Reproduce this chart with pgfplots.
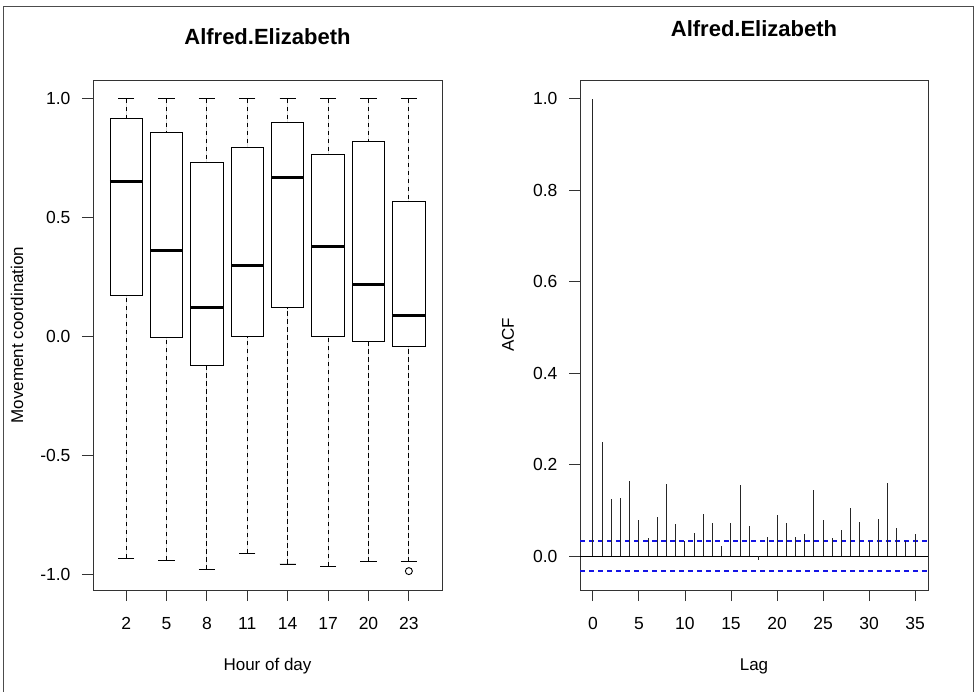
\documentclass[border=0pt]{standalone}
\usepackage{pgfplots}
\pgfplotsset{compat=1.18}
\usepgfplotslibrary{statistics}
\usepackage{fontspec}
\setmainfont{Liberation Sans}
\definecolor{ciblue}{RGB}{20,20,230}

\pgfplotsset{
  rpanel/.style={
    scale only axis,
    height=510pt,
    anchor=south west,
    axis line style={black!80, line width=0.9pt},
    tick align=outside,
    major tick length=11pt,
    xtick pos=left, ytick pos=left,
    tick style={black!80, line width=0.9pt},
    tick label style={font=\fontsize{17.5}{20}\selectfont},
    xticklabel style={yshift=-13pt},
    yticklabel style={xshift=-8pt, /pgf/number format/fixed, /pgf/number format/fixed zerofill, /pgf/number format/precision=1},
    title style={font=\fontsize{22}{26}\selectfont\bfseries, at={(0.5,1)}, anchor=center},
    /pgf/number format/assume math mode=true,
    every axis y label/.style={at={(axis description cs:0,0.5)}, rotate=90, anchor=center, font=\fontsize{17}{20}\selectfont},
    every axis x label/.style={at={(axis description cs:0.5,0)}, anchor=center, yshift=-76pt, font=\fontsize{17}{20}\selectfont},
  },
  boxplot/draw/lower whisker/.code={%
    \draw[black, line width=0.9pt, dash pattern=on 4.5pt off 3.5pt]
      (boxplot cs:\pgfplotsboxplotvalue{lower whisker}) -- (boxplot cs:\pgfplotsboxplotvalue{lower quartile});
    \draw[black, line width=0.9pt]
      (boxplot whisker cs:\pgfplotsboxplotvalue{lower whisker},0) -- (boxplot whisker cs:\pgfplotsboxplotvalue{lower whisker},1);
  },
  boxplot/draw/upper whisker/.code={%
    \draw[black, line width=0.9pt, dash pattern=on 4.5pt off 3.5pt]
      (boxplot cs:\pgfplotsboxplotvalue{upper whisker}) -- (boxplot cs:\pgfplotsboxplotvalue{upper quartile});
    \draw[black, line width=0.9pt]
      (boxplot whisker cs:\pgfplotsboxplotvalue{upper whisker},0) -- (boxplot whisker cs:\pgfplotsboxplotvalue{upper whisker},1);
  },
  hbox/.style={black, fill=white, line width=0.9pt, solid,
    boxplot/draw direction=y,
    boxplot/box extend=0.8, boxplot/whisker extend=0.4,
    boxplot/every median/.style={line width=3pt}},
  ciline/.style={color=ciblue, line width=1.3pt, dash pattern=on 5pt off 4pt, mark=none},
}

\begin{document}
\begin{tikzpicture}[x=1pt,y=1pt]
\path[use as bounding box] (0,0) rectangle (974,691);
\draw[black!70, line width=1pt] (3,-2) -- (3,684) -- (973,684) -- (973,-2);

% left: boxplots by hour
\begin{axis}[
  rpanel,
  at={(93pt,101pt)},
  width=349pt,
  xmin=0.18, xmax=8.82,
  ymin=-1.0644, ymax=1.0794,
  xtick={1,2,3,4,5,6,7,8},
  xticklabels={2,5,8,11,14,17,20,23},
  ytick={-1,-0.5,0,0.5,1},
  title={Alfred.Elizabeth},
  title style={yshift=37pt},
  xlabel={Hour of day},
  ylabel={Movement coordination},
  ylabel style={yshift=76pt},
]
\addplot[hbox, boxplot prepared={draw position=1, lower whisker=-0.93, lower quartile=0.172, median=0.651, upper quartile=0.918, upper whisker=1.0}] coordinates {};
\addplot[hbox, boxplot prepared={draw position=2, lower whisker=-0.94, lower quartile=-0.003, median=0.363, upper quartile=0.861, upper whisker=1.0}] coordinates {};
\addplot[hbox, boxplot prepared={draw position=3, lower whisker=-0.98, lower quartile=-0.12, median=0.123, upper quartile=0.734, upper whisker=1.0}] coordinates {};
\addplot[hbox, boxplot prepared={draw position=4, lower whisker=-0.91, lower quartile=0.0, median=0.300, upper quartile=0.797, upper whisker=1.0}] coordinates {};
\addplot[hbox, boxplot prepared={draw position=5, lower whisker=-0.955, lower quartile=0.123, median=0.671, upper quartile=0.900, upper whisker=1.0}] coordinates {};
\addplot[hbox, boxplot prepared={draw position=6, lower whisker=-0.965, lower quartile=0.0, median=0.378, upper quartile=0.767, upper whisker=1.0}] coordinates {};
\addplot[hbox, boxplot prepared={draw position=7, lower whisker=-0.945, lower quartile=-0.018, median=0.221, upper quartile=0.822, upper whisker=1.0}] coordinates {};
\addplot[hbox, boxplot prepared={draw position=8, lower whisker=-0.945, lower quartile=-0.042, median=0.089, upper quartile=0.567, upper whisker=1.0}] coordinates {};
\addplot[only marks, mark=o, mark size=3.5pt, black, line width=0.9pt] coordinates {(8,-0.985)};
\end{axis}

% right: autocorrelation
\begin{axis}[
  rpanel,
  at={(580pt,101pt)},
  width=348pt,
  xmin=-1.4, xmax=36.4,
  ymin=-0.0742, ymax=1.0413,
  xtick={0,5,10,15,20,25,30,35},
  ytick={0,0.2,0.4,0.6,0.8,1.0},
  title={Alfred.Elizabeth},
  title style={yshift=45pt},
  xlabel={Lag},
  ylabel={ACF},
  ylabel style={yshift=72pt},
]
\addplot[ciline] coordinates {(-1.4,-0.0329) (36.4,-0.0329)};
\addplot[ciline] coordinates {(-1.4,0.0329) (36.4,0.0329)};
\addplot[black, line width=0.9pt] coordinates {(-1.4,0) (36.4,0)};
\addplot[ycomb, black!85, line width=1pt, mark=none] coordinates {
(0,1.0) (1,0.249) (2,0.124) (3,0.127) (4,0.165) (5,0.078) (6,0.040) (7,0.086)
(8,0.158) (9,0.070) (10,0.033) (11,0.050) (12,0.093) (13,0.073) (14,0.022)
(15,0.073) (16,0.155) (17,0.065) (18,-0.008) (19,0.042) (20,0.089) (21,0.073)
(22,0.042) (23,0.048) (24,0.144) (25,0.078) (26,0.040) (27,0.058) (28,0.106)
(29,0.075) (30,0.033) (31,0.081) (32,0.160) (33,0.062) (34,0.033) (35,0.048)
};
\end{axis}
\end{tikzpicture}
\end{document}
